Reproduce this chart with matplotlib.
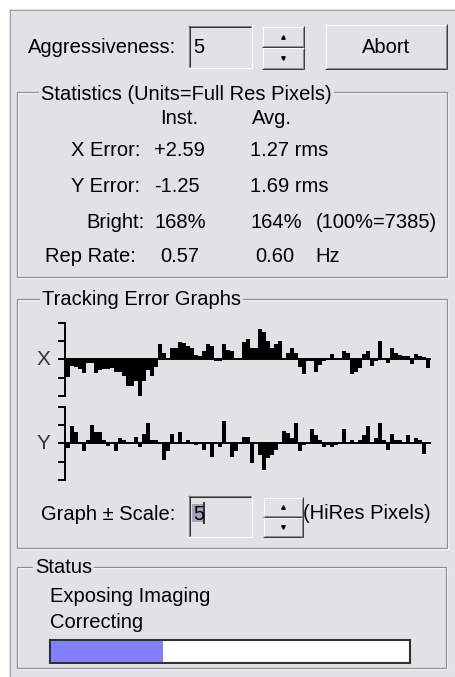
import numpy as np
import matplotlib
matplotlib.use('Agg')
import matplotlib.pyplot as plt
from matplotlib.patches import Rectangle

# tracking error samples (HiRes pixels)
xErr = [-2.4, -0.9, -1.0, -1.3, -1.9, -0.5, -0.5, -1.9, -1.4, -1.3, -1.3, -1.2, -1.7, -1.8, -2.3,
        -3.6, -3.6, -3.0, -5.0, -3.0, -1.4, -2.3, -1.0, 2.1, 0.8, 0.1, 1.5, 1.5, 2.3, 2.2,
        1.8, 1.6, 0.6, 0.5, 1.2, 2.1, 1.8, -0.2, -0.3, 2.1, 1.3, 1.2, 0.1, 0.2,
        2.4, 2.8, 1.6, 1.5, 4.2, 3.7, 2.5, 1.5, 2.1, 2.5, 0.0, 0.9, 1.5, 0.8, -1.0,
        -2.0, -0.3, -0.3, -1.7, -0.8, -0.3, 0.0, 0.7, 0.1, 0.1, 1.2, 0.8, -2.0, -1.7, -1.2,
        0.7, 1.2, -0.9, -0.3, 2.5, 0.0, -0.5, 1.5, 0.9, 0.6, 0.4, 0.4, -0.6, 0.7, 0.5, 0.3, -1.2]
yErr = [-0.7, 2.3, 1.5, 0.2, -1.1, 0.5, 2.5, 1.5, 1.5, 0.5, -0.4, 0.1, -1.1, 0.7, 0.4,
        0.2, 0.2, 0.9, -0.5, 1.3, 2.8, 0.4, 0.4, 0.2, -2.3, -1.1, 1.3, 0.1, 1.5, 0.2,
        0.4, 0.1, -0.2, 0.1, -0.9, 0.1, -1.9, 0.1, -0.5, 3.1, 0.1, -1.9, -1.1, 0.2,
        0.9, 0.9, -2.7, 0.1, -1.6, -3.6, -2.0, -1.6, -0.9, 0.1, 1.7, 1.4, 0.7, 2.8, -1.1,
        -0.2, 0.1, 2.0, 1.1, 0.4, -0.5, -0.2, -0.5, -0.2, 0.1, 1.9, 0.1, 0.4, 0.2, 0.4,
        1.1, 2.3, 0.1, 0.7, 2.8, 0.5, -0.9, 1.3, 0.5, 0.5, 0.2, 1.1, 0.1, 0.7, 0.5, -1.4, 0.2]
graphScale = 5
scaleTicks = [-5, -2.5, 0, 2.5, 5]

aggressiveness = '5'
statLabels = ['X Error:', 'Y Error:', 'Bright:', 'Rep Rate:']
instVals = ['+2.59', '-1.25', '168%', '0.57']
avgVals = ['1.27 rms', '1.69 rms', '164%', '0.60']
extraVals = ['', '', '(100%=7385)', 'Hz']
statusLines = ['Exposing Imaging', 'Correcting']
progress = 0.313

W, H = 455, 677
BG = '#E1E1E6'
DARK = '#8E8E94'
FONT = 'Liberation Sans'
FS = 14.5

fig = plt.figure(figsize=(W / 100, H / 100), dpi=100)
fig.patch.set_facecolor('white')
ax = fig.add_axes([0, 0, 1, 1])
ax.set_xlim(0, W)
ax.set_ylim(H, 0)
ax.axis('off')


def line(xs, ys, c, lw=1.0):
    ax.plot(xs, ys, color=c, lw=lw * 0.72, solid_capstyle='butt')


def txt(x, y, s, **kw):
    kw.setdefault('fontsize', FS)
    kw.setdefault('family', FONT)
    kw.setdefault('color', 'black')
    kw.setdefault('va', 'baseline')
    return ax.text(x, y, s, **kw)


def etched(x0, y0, x1, y1):
    ax.add_patch(Rectangle((x0 + 1, y0 + 1), x1 - x0, y1 - y0, fill=False, ec='white', lw=0.9))
    ax.add_patch(Rectangle((x0, y0), x1 - x0, y1 - y0, fill=False, ec=DARK, lw=0.9))


def groupbox(x0, y0, x1, y1, title, tx, base):
    etched(x0, y0, x1, y1)
    txt(tx, base, title, bbox=dict(fc=BG, ec='none', pad=1.5))


def raised(x0, y0, x1, y1):
    ax.add_patch(Rectangle((x0, y0), x1 - x0, y1 - y0, fc=BG, ec='none'))
    line([x0, x1], [y0 + 0.5, y0 + 0.5], 'white')
    line([x0 + 0.5, x0 + 0.5], [y0, y1], 'white')
    line([x0, x1], [y1 - 0.5, y1 - 0.5], '#404040')
    line([x1 - 0.5, x1 - 0.5], [y0, y1], '#404040')
    line([x0 + 1, x1 - 1], [y1 - 1.5, y1 - 1.5], '#909090')
    line([x1 - 1.5, x1 - 1.5], [y0 + 1, y1 - 1], '#909090')


def sunken(x0, y0, x1, y1):
    ax.add_patch(Rectangle((x0, y0), x1 - x0, y1 - y0, fc=BG, ec='none'))
    line([x0, x1], [y0 + 0.5, y0 + 0.5], '#808080')
    line([x0 + 0.5, x0 + 0.5], [y0, y1], '#808080')
    line([x0 + 1, x1 - 1], [y0 + 1.5, y0 + 1.5], '#303030')
    line([x0 + 1.5, x0 + 1.5], [y0 + 1, y1 - 1], '#303030')
    line([x0, x1], [y1 - 0.5, y1 - 0.5], 'white')
    line([x1 - 0.5, x1 - 0.5], [y0, y1], 'white')


def spin(x0, y0, x1, y1):
    ym = (y0 + y1) / 2
    raised(x0, y0, x1, ym)
    raised(x0, ym, x1, y1)
    xc = (x0 + x1) / 2
    ax.plot(xc, y0 + (ym - y0) * 0.5, marker='^', ms=2.5, color='black')
    ax.plot(xc, ym + (y1 - ym) * 0.5, marker='v', ms=2.5, color='black')


# window background
ax.add_patch(Rectangle((9, 9), W - 9, H - 9, fc=BG, ec='none'))
line([9, W], [9.5, 9.5], '#A0A0A6')
line([9.5, 9.5], [9, H], '#A0A0A6')

# top row
txt(28, 53, 'Aggressiveness:')
sunken(188, 25, 252, 68)
txt(193, 53, aggressiveness)
spin(262, 26, 304, 69)
raised(325, 24, 447, 69)
txt(386, 53, 'Abort', ha='center')

# statistics
groupbox(17, 92, 447, 277, 'Statistics (Units=Full Res Pixels)', 41, 100)
txt(160, 124, 'Inst.')
txt(252, 124, 'Avg.')
rowBase = [156, 192, 228, 262]
labelX = [71, 71, 86, 45]
instX = [154, 154, 154, 160]
avgX = [250, 250, 250, 255]
extraX = [0, 0, 316, 315]
for i in range(len(statLabels)):
    txt(labelX[i], rowBase[i], statLabels[i])
    txt(instX[i], rowBase[i], instVals[i])
    txt(avgX[i], rowBase[i], avgVals[i])
    if extraVals[i]:
        txt(extraX[i], rowBase[i], extraVals[i])

# tracking graphs
groupbox(17, 299, 447, 548, 'Tracking Error Graphs', 42, 305)


def graph(vals, zeroY, label):
    n = len(vals)
    half = 36.6
    x0, x1 = 66, 66 + 4 * n
    g = fig.add_axes([x0 / W, 1 - (zeroY + half) / H, (x1 - x0) / W, 2 * half / H])
    g.bar(np.arange(n), vals, width=1.0, align='edge', color='black', linewidth=0)
    g.set_xlim(0, n)
    g.set_ylim(-graphScale, graphScale)
    g.axis('off')
    g.patch.set_alpha(0)
    g.plot([-0.25, n], [0, 0], color='black', lw=1.4, clip_on=False)
    g.plot([-0.25, -0.25], [-graphScale, graphScale], color='black', lw=1.4, clip_on=False)
    for t in scaleTicks:
        g.plot([-1.75, -0.25], [t, t], color='black', lw=1.4, clip_on=False)
    txt(43, zeroY, label, ha='center', va='center', fontsize=15, color='#333333')


graph(xErr, 359.3, 'X')
graph(yErr, 443.3, 'Y')

txt(41, 520, 'Graph \u00b1 Scale:')
sunken(188, 495, 252, 537)
ax.add_patch(Rectangle((192, 504), 11, 18, fc='#A4A4B8', ec='none'))
txt(193, 520, str(graphScale))
line([204, 204], [502, 524], 'black', lw=1.5)
spin(263, 497, 303, 537)
txt(303, 519, '(HiRes Pixels)')

# status
groupbox(17, 567, 446, 668, 'Status', 35, 573)
txt(50, 602, statusLines[0])
txt(50, 628, statusLines[1])
px0, px1, py0, py1 = 50, 410, 640, 663
ax.add_patch(Rectangle((px0, py0), px1 - px0, py1 - py0, fc='white', ec='#303030', lw=1.5))
ax.add_patch(Rectangle((px0 + 1, py0 + 1), (px1 - px0 - 2) * progress, py1 - py0 - 2,
                       fc='#8080FF', ec='none'))

fig.savefig('out.png', dpi=100, facecolor=fig.get_facecolor())
